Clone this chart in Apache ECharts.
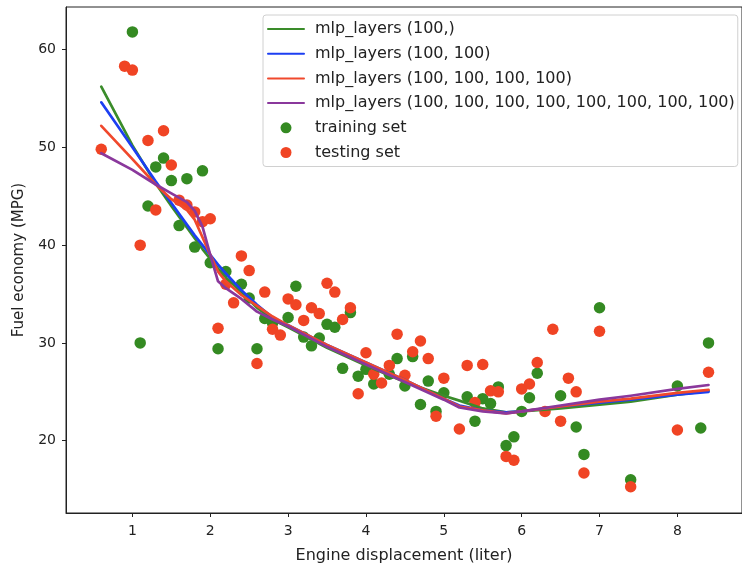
<!DOCTYPE html>
<html><head><meta charset="utf-8">
<script src="https://cdn.jsdelivr.net/npm/echarts@6/dist/echarts.min.js"></script>
<style>html,body{margin:0;padding:0;background:#fff}#c{width:742px;height:569px}</style>
</head><body><div id="c"></div>
<script>
const trainX = [1.0,1.1,1.2,1.3,1.4,1.5,1.6,1.7,1.8,1.9,2.0,2.1,2.2,2.4,2.5,2.6,2.7,2.8,3.0,3.1,3.2,3.3,3.4,3.5,3.6,3.7,3.8,3.9,4.0,4.1,4.3,4.4,4.5,4.6,4.7,4.8,4.9,5.0,5.3,5.4,5.5,5.6,5.7,5.8,5.9,6.0,6.1,6.2,6.5,6.7,6.8,7.0,7.4,8.0,8.3,8.4];
const trainY = [61.8,30.0,44.0,48.0,48.9,46.6,42.0,46.8,39.8,47.6,38.2,29.4,37.3,36.0,34.6,29.4,32.5,32.0,32.6,35.8,30.6,29.7,30.5,31.9,31.6,27.4,33.1,26.6,27.3,25.8,26.8,28.4,25.6,28.6,23.7,26.1,23.0,24.9,24.5,22.0,24.3,23.8,25.5,19.5,20.4,23.0,24.4,26.9,24.6,21.4,18.6,33.6,16.0,25.6,21.3,30.0];
const testX = [0.6,0.9,1.0,1.1,1.2,1.3,1.4,1.5,1.6,1.7,1.8,1.9,2.0,2.1,2.2,2.3,2.4,2.5,2.6,2.7,2.8,2.9,3.0,3.1,3.2,3.3,3.4,3.5,3.6,3.7,3.8,3.9,4.0,4.1,4.2,4.3,4.4,4.5,4.6,4.7,4.8,4.9,5.0,5.2,5.3,5.4,5.5,5.6,5.7,5.8,5.9,6.0,6.1,6.2,6.3,6.4,6.5,6.6,6.7,6.8,7.0,7.4,8.0,8.4];
const testY = [49.8,58.3,57.9,40.0,50.7,43.6,51.7,48.2,44.6,44.1,43.4,42.4,42.7,31.5,36.0,34.1,38.9,37.4,27.9,35.2,31.4,30.8,34.5,33.9,32.3,33.6,33.0,36.1,35.2,32.4,33.6,24.8,29.0,26.8,25.9,27.7,30.9,26.7,29.1,30.2,28.4,22.5,26.4,21.2,27.7,23.9,27.8,25.1,25.0,18.4,18.0,25.3,25.8,28.0,23.0,31.4,22.0,26.4,25.0,16.7,31.2,15.3,21.1,27.0];

const lineX = [0.6,1.0,1.3,1.5,1.7,1.8,1.9,2.0,2.1,2.2,2.4,2.6,2.8,3.0,3.5,4.0,4.5,5.0,5.2,5.5,5.8,6.0,6.5,7.0,7.4,8.0,8.4];
const fit1 = [56.2,50.2,46.3,44.0,41.8,40.7,39.6,38.6,37.6,36.7,35.2,33.6,32.4,31.6,29.5,27.7,26.0,24.6,24.1,23.3,22.9,23.0,23.3,23.7,24.0,24.7,25.1];
const fit2 = [54.6,50.0,46.5,44.3,42.1,41.0,40.0,39.0,38.0,37.1,35.4,33.9,32.6,31.8,29.8,28.0,26.2,24.3,23.6,23.1,22.9,23.0,23.5,23.9,24.2,24.7,25.0];
const fit4 = [52.2,48.8,46.2,44.7,43.6,42.6,40.8,39.0,37.3,36.3,34.9,33.8,32.7,31.8,29.8,28.0,26.2,24.3,23.5,23.1,22.8,23.0,23.5,24.0,24.3,24.9,25.2];
const fit8 = [49.4,47.7,46.2,45.3,44.4,43.5,41.9,39.0,36.3,35.6,34.5,33.2,32.4,31.7,29.6,27.8,26.0,24.2,23.4,23.0,22.8,23.0,23.6,24.2,24.6,25.3,25.7];

const xTicks = [1,2,3,4,5,6,7,8];
const yTicks = [20,30,40,50,60];
const lineNames = ['mlp_layers (100,)','mlp_layers (100, 100)','mlp_layers (100, 100, 100, 100)','mlp_layers (100, 100, 100, 100, 100, 100, 100, 100)'];
const lineColors = ['#3a8c2a','#1c3ff2','#f0482c','#8a389c'];
const scatterNames = ['training set','testing set'];
const scatterColors = ['#348a22','#f04424'];

const zip = (xs, ys) => xs.map((x, i) => [x, ys[i]]);
const fits = [fit1, fit2, fit4, fit8];
const FONT = 'DejaVu Sans';

const series = [];
fits.forEach((f, i) => {
  series.push({
    name: lineNames[i], type: 'line', data: zip(lineX, f),
    symbol: 'none', showSymbol: false, z: 5, smooth: false,
    lineStyle: { color: lineColors[i], width: 2.7, join: 'round', cap: 'round' },
    itemStyle: { color: lineColors[i] }
  });
});
series.push({ name: scatterNames[0], type: 'scatter', data: zip(trainX, trainY), symbolSize: 11.5, z: 2, itemStyle: { color: scatterColors[0], opacity: 1 } });
series.push({ name: scatterNames[1], type: 'scatter', data: zip(testX, testY), symbolSize: 11.5, z: 3, itemStyle: { color: scatterColors[1], opacity: 1 } });

const legendData = lineNames.map(n => ({ name: n, itemStyle: { opacity: 0 } }))
  .concat(scatterNames.map(n => ({ name: n })));

const chart = echarts.init(document.getElementById('c'), null, { renderer: 'canvas' });
chart.setOption({
  animation: false,
  backgroundColor: '#fff',
  textStyle: { fontFamily: FONT },
  grid: { left: 66, top: 7, width: 682, height: 511, show: true, borderColor: '#222', borderWidth: 1, backgroundColor: 'transparent' },
  xAxis: {
    type: 'value', min: 0.147, max: 8.83,
    name: 'Engine displacement (liter)', nameLocation: 'middle', nameGap: 35,
    nameTextStyle: { fontSize: 16, color: '#222', fontFamily: FONT },
    axisLine: { show: true, onZero: false, lineStyle: { color: '#222', width: 1 } },
    axisTick: { show: true, inside: false, length: 4, customValues: xTicks, lineStyle: { color: '#222' } },
    axisLabel: { customValues: xTicks, fontSize: 14, color: '#222', margin: 11, fontFamily: FONT },
    splitLine: { show: false }
  },
  yAxis: {
    type: 'value', min: 12.61, max: 64.35,
    name: 'Fuel economy (MPG)', nameLocation: 'middle', nameGap: 39,
    nameTextStyle: { fontSize: 15, color: '#222', fontFamily: FONT },
    axisLine: { show: true, onZero: false, lineStyle: { color: '#222', width: 1 } },
    axisTick: { show: true, inside: false, length: 4, customValues: yTicks, lineStyle: { color: '#222' } },
    axisLabel: { customValues: yTicks, fontSize: 14, color: '#222', margin: 10, fontFamily: FONT },
    splitLine: { show: false }
  },
  legend: {
    orient: 'vertical', left: 263, top: 15,
    data: legendData,
    itemWidth: 36, itemHeight: 11, itemGap: 8.7,
    padding: [6, 3, 6, 4],
    backgroundColor: 'rgba(255,255,255,0.8)', borderColor: '#d0d0d0', borderWidth: 1, borderRadius: 3,
    textStyle: { fontSize: 16, color: '#222', fontFamily: FONT, lineHeight: 16, padding: [0, 0, 0, 6] },
    selectedMode: false
  },
  series: series
});
</script></body></html>
